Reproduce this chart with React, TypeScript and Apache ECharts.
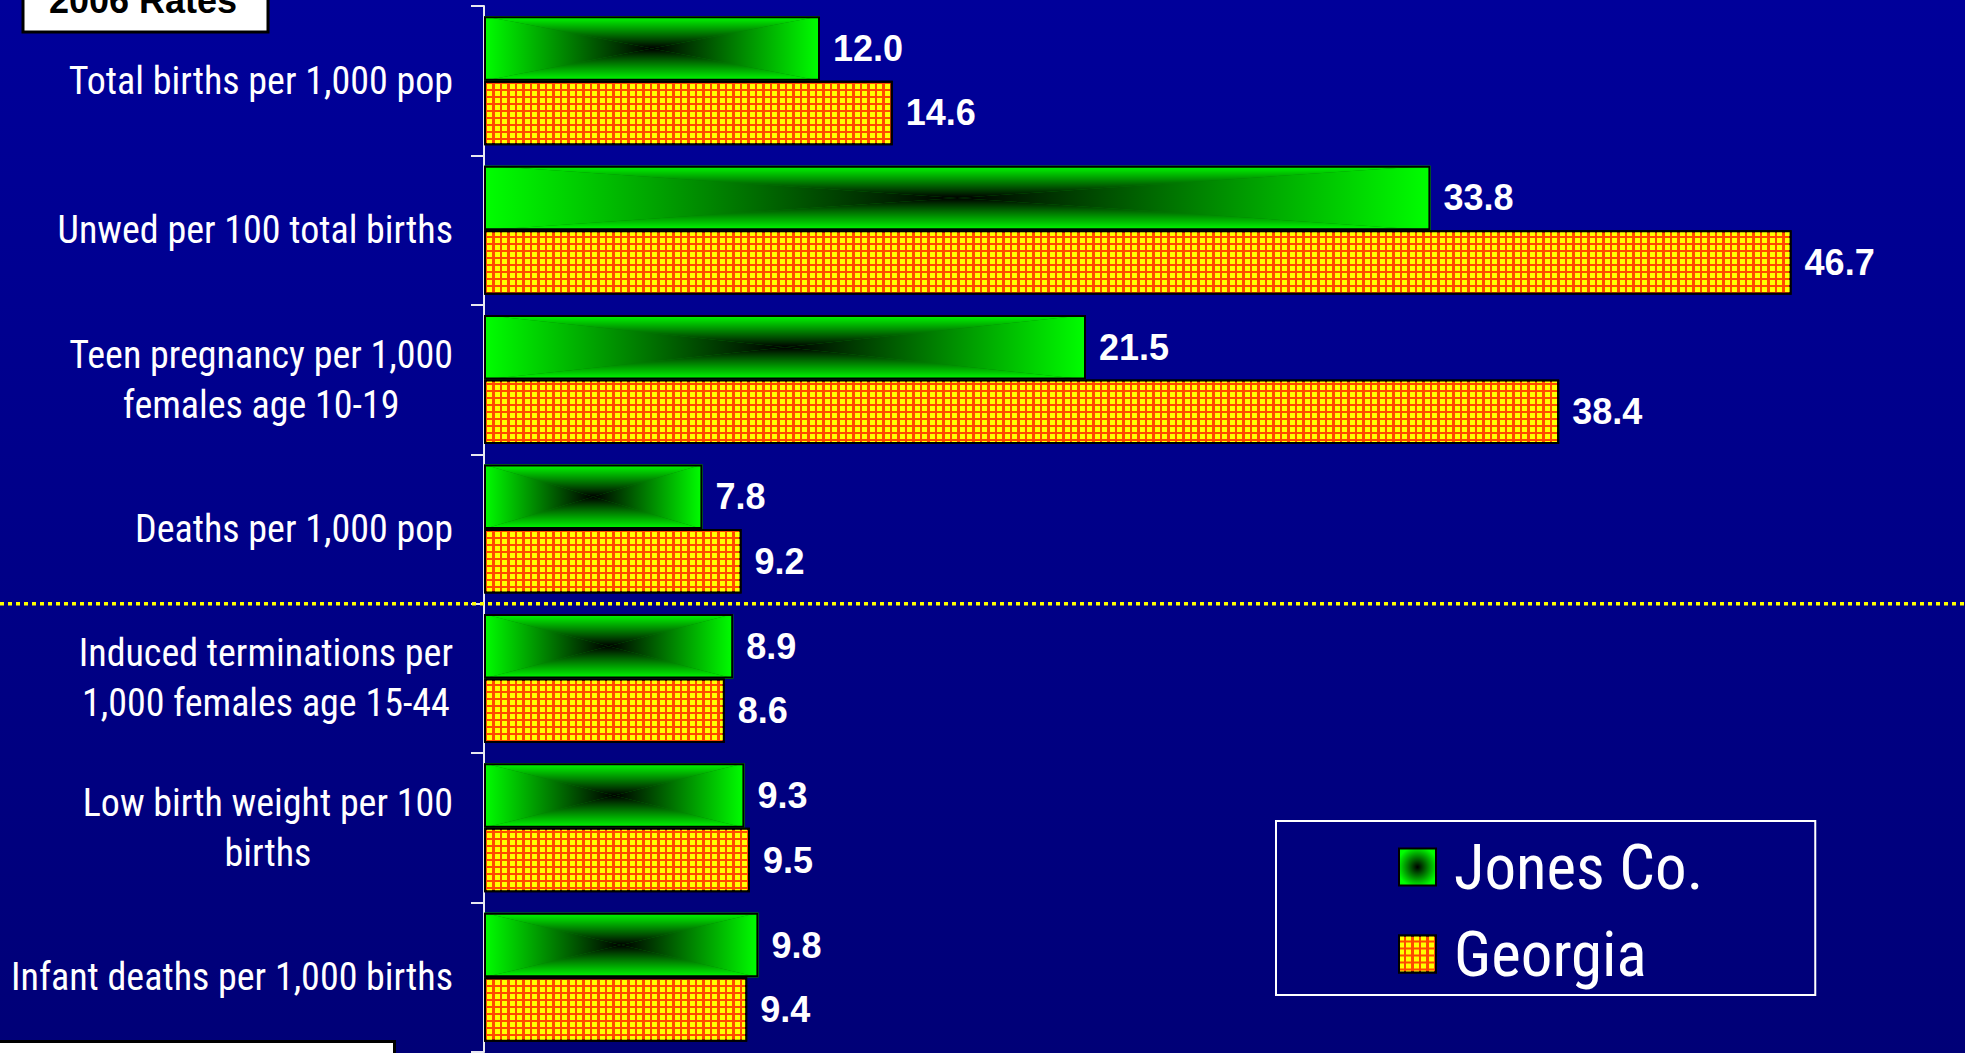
import React, { useEffect, useRef } from "react";
import * as echarts from "echarts";

const categories = [
  "Total births per 1,000 pop",
  "Unwed per 100 total births",
  "Teen pregnancy per 1,000\nfemales age 10-19",
  "Deaths per 1,000 pop",
  "Induced terminations per\n1,000 females age 15-44",
  "Low birth weight per 100\nbirths",
  "Infant deaths per 1,000 births",
];
const jonesValues = [12.0, 33.8, 21.5, 7.8, 8.9, 9.3, 9.8];
const georgiaValues = [14.6, 46.7, 38.4, 9.2, 8.6, 9.5, 9.4];
const seriesNames = ["Jones Co.", "Georgia"];
const boxTitle = "2006 Rates";

const W = 1965;
const H = 1053;
const GRID_LEFT = 484;
const GRID_RIGHT = 81;
const GRID_TOP = 6;
const GRID_H = 1046;
const BAR_W = 64.5;
const NARROW = "'Roboto Condensed', 'Liberation Sans Narrow', Roboto, sans-serif";
const BOLD = "'Liberation Sans', Arial, sans-serif";
const GREEN = "#00FF00";
const BLACK = "#000000";

export default function App() {
  const ref = useRef<HTMLDivElement>(null);
  useEffect(() => {
    if (!ref.current) return;
    const chart = echarts.init(ref.current, undefined, { renderer: "svg" });
    const G = echarts.graphic;
    const lg = (x: number, y: number, x2: number, y2: number, c0: string, c1: string) =>
      new G.LinearGradient(x, y, x2, y2, [
        { offset: 0, color: c0 },
        { offset: 1, color: c1 },
      ]);
    const bandH = GRID_H / categories.length;
    const dividerY = GRID_TOP + 4 * bandH;
    const valueLabel = {
      show: true,
      position: "right",
      distance: 13,
      color: "#FFFFFF",
      fontWeight: "bold",
      fontSize: 36,
      fontFamily: BOLD,
      formatter: (p: any) => Number(p.value).toFixed(1),
    };
    const option: any = {
      animation: false,
      backgroundColor: "transparent",
      grid: {
        left: GRID_LEFT,
        right: GRID_RIGHT,
        top: GRID_TOP,
        height: GRID_H,
        containLabel: false,
        outerBoundsMode: "none",
      },
      xAxis: { type: "value", min: 0, max: 50, show: false },
      yAxis: {
        type: "category",
        inverse: true,
        data: categories,
        axisLine: { show: true, lineStyle: { color: "#E8E8F0", width: 2 } },
        axisTick: { show: true, length: 13, lineStyle: { color: "#E8E8F0", width: 2 } },
        splitLine: { show: false },
        axisLabel: {
          align: "right",
          margin: 31,
          formatter: (v: string) =>
            v
              .split("\n")
              .map((l) => "{c|" + l + "}")
              .join("\n"),
          rich: {
            c: {
              align: "center",
              color: "#FFFFFF",
              fontSize: 38,
              fontFamily: NARROW,
              lineHeight: 50,
            },
          },
        },
      },
      legend: {
        orient: "vertical",
        left: 1276,
        top: 821,
        borderColor: "#FFFFFF",
        borderWidth: 2,
        padding: [11, 112, 6, 122],
        itemWidth: 37,
        itemHeight: 37,
        itemGap: 17,
        icon: "rect",
        textStyle: {
          color: "#FFFFFF",
          fontSize: 63,
          fontFamily: NARROW,
          lineHeight: 70,
          padding: [0, 0, 0, 13],
        },
        data: [
          {
            name: seriesNames[0],
            itemStyle: {
              color: new G.RadialGradient(0.5, 0.5, 0.55, [
                { offset: 0, color: BLACK },
                { offset: 1, color: GREEN },
              ]),
              borderColor: BLACK,
              borderWidth: 2,
            },
          },
          { name: seriesNames[1] },
        ],
      },
      series: [
        {
          type: "custom",
          name: "jonesFill",
          z: 1,
          silent: true,
          encode: { x: 0, y: 1 },
          data: jonesValues.map((v, i) => [v, i]),
          renderItem: (params: any, api: any) => {
            const v = api.value(0);
            const i = api.value(1);
            const base = api.coord([0, i]);
            const end = api.coord([v, i]);
            const x0 = base[0];
            const x1 = end[0];
            const y1 = base[1];
            const y0 = y1 - BAR_W;
            const cx = (x0 + x1) / 2;
            const cy = (y0 + y1) / 2;
            return {
              type: "group",
              children: [
                { type: "rect", shape: { x: x0, y: y0, width: x1 - x0, height: y1 - y0 }, style: { fill: "#008000" } },
                { type: "polygon", shape: { points: [[x0, y0], [x1, y0], [cx, cy]] }, style: { fill: lg(0, 0, 0, 1, GREEN, BLACK) } },
                { type: "polygon", shape: { points: [[x0, y1], [x1, y1], [cx, cy]] }, style: { fill: lg(0, 0, 0, 1, BLACK, GREEN) } },
                { type: "polygon", shape: { points: [[x0, y0], [x0, y1], [cx, cy]] }, style: { fill: lg(0, 0, 1, 0, GREEN, BLACK) } },
                { type: "polygon", shape: { points: [[x1, y0], [x1, y1], [cx, cy]] }, style: { fill: lg(0, 0, 1, 0, BLACK, GREEN) } },
              ],
            };
          },
        },
        {
          type: "bar",
          name: seriesNames[0],
          z: 3,
          data: jonesValues,
          barWidth: BAR_W,
          barGap: "0%",
          itemStyle: { color: "rgba(0,0,0,0)", borderColor: BLACK, borderWidth: 2 },
          label: valueLabel,
        },
        {
          type: "bar",
          name: seriesNames[1],
          z: 3,
          data: georgiaValues,
          barWidth: BAR_W,
          barGap: "0%",
          itemStyle: {
            color: "#FF4A00",
            borderColor: BLACK,
            borderWidth: 2,
            decal: {
              symbol: "rect",
              symbolSize: 1,
              dashArrayX: [5, 2, 5, 3],
              dashArrayY: [5, 2],
              color: "#FFFF00",
              rotation: 0,
            },
          },
          label: valueLabel,
        },
      ],
      graphic: [
        {
          type: "line",
          z: 10,
          shape: { x1: 0, y1: dividerY, x2: W, y2: dividerY },
          style: { stroke: "#FFFF00", lineWidth: 3.5, lineDash: [4, 4] },
        },
        {
          type: "rect",
          z: 10,
          shape: { x: 23, y: -10, width: 245, height: 42 },
          style: { fill: "#FFFFFF", stroke: BLACK, lineWidth: 3 },
        },
        {
          type: "text",
          z: 11,
          x: 143,
          y: 0,
          style: {
            text: boxTitle,
            fill: BLACK,
            font: "bold 36px 'Liberation Sans', Arial, sans-serif",
            align: "center",
            verticalAlign: "middle",
          },
        },
        {
          type: "rect",
          z: 10,
          shape: { x: -5, y: 1041.5, width: 399.5, height: 30 },
          style: { fill: "#FFFFFF", stroke: BLACK, lineWidth: 3 },
        },
      ],
    };
    chart.setOption(option);
    return () => chart.dispose();
  }, []);
  return (
    <div
      ref={ref}
      style={{
        position: "fixed",
        left: 0,
        top: 0,
        width: W,
        height: H,
        background: "linear-gradient(#00009A, #000077)",
      }}
    />
  );
}
